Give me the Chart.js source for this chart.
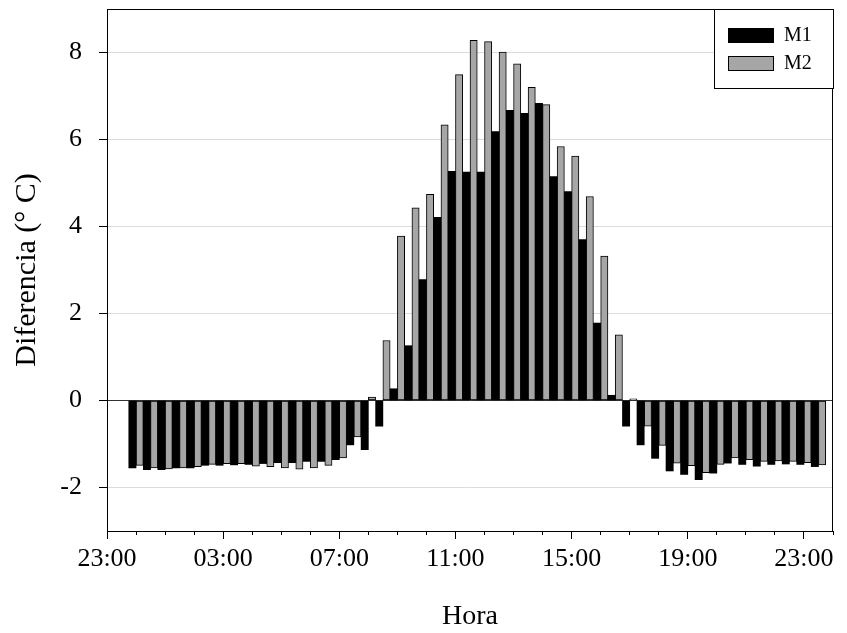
<!DOCTYPE html>
<html>
<head>
<meta charset="utf-8">
<script src="https://cdn.jsdelivr.net/npm/chart.js@4.4.0/dist/chart.umd.min.js"></script>
<style>
  html, body { margin: 0; padding: 0; background: #fff; }
  #wrap { width: 847px; height: 633px; }
</style>
</head>
<body>
<div id="wrap"><canvas id="difChart"></canvas></div>
<script>
// Half-hour slots, as hours after midnight
const hours = [
  0, 0.5, 1, 1.5, 2, 2.5, 3, 3.5, 4, 4.5, 5, 5.5,
  6, 6.5, 7, 7.5, 8, 8.5, 9, 9.5, 10, 10.5, 11, 11.5,
  12, 12.5, 13, 13.5, 14, 14.5, 15, 15.5, 16, 16.5, 17, 17.5,
  18, 18.5, 19, 19.5, 20, 20.5, 21, 21.5, 22, 22.5, 23, 23.5
];

// Temperature difference (°C)
const m1 = [
  -1.55, -1.59, -1.59, -1.55, -1.55, -1.49, -1.49, -1.48, -1.47, -1.45, -1.43, -1.43,
  -1.40, -1.40, -1.36, -1.02, -1.13, -0.59, 0.27, 1.26, 2.78, 4.21, 5.27, 5.25,
  5.25, 6.18, 6.67, 6.60, 6.83, 5.15, 4.80, 3.70, 1.78, 0.12, -0.59, -1.02,
  -1.33, -1.62, -1.70, -1.82, -1.67, -1.44, -1.47, -1.51, -1.47, -1.46, -1.47, -1.52
];
const m2 = [
  -1.49, -1.55, -1.57, -1.55, -1.52, -1.47, -1.45, -1.45, -1.51, -1.52, -1.55, -1.58,
  -1.55, -1.49, -1.32, -0.84, 0.08, 1.38, 3.78, 4.43, 4.74, 6.34, 7.49, 8.28,
  8.25, 8.01, 7.74, 7.20, 6.80, 5.84, 5.62, 4.69, 3.32, 1.51, 0.04, -0.59,
  -1.03, -1.44, -1.50, -1.66, -1.47, -1.32, -1.36, -1.40, -1.39, -1.40, -1.43, -1.48
];

// Labelled hour ticks (-1 = 23:00 of the previous day)
const xTickHours  = [-1, 3, 7, 11, 15, 19, 23];
const xTickLabels = ['23:00', '03:00', '07:00', '11:00', '15:00', '19:00', '23:00'];
const yTicks = [-2, 0, 2, 4, 6, 8];

const SERIF = '"Liberation Serif", "Times New Roman", serif';
const GRAY  = '#a6a6a6';

// closed frame round the plot + the boxed legend in its top right corner
const framePlugin = {
  id: 'frameAndLegend',
  afterDatasetsDraw(chart) {
    const { ctx, chartArea: a } = chart;
    ctx.save();
    ctx.strokeStyle = '#000';
    ctx.lineWidth = 1;
    ctx.strokeRect(a.left + 0.5, a.top + 0.5, a.right - a.left - 1, a.bottom - a.top);

    const w = 119, h = 79;
    const bx = a.right - w, by = a.top;
    ctx.fillStyle = '#fff';
    ctx.fillRect(bx, by, w, h);
    ctx.strokeRect(bx + 0.5, by + 0.5, w, h);

    chart.data.datasets.forEach((ds, i) => {
      const sy = by + 19 + i * 28;
      ctx.fillStyle = ds.backgroundColor;
      ctx.fillRect(bx + 14, sy, 46, 15);
      ctx.strokeStyle = '#000';
      ctx.strokeRect(bx + 14.5, sy + 0.5, 45, 14);
      ctx.fillStyle = '#000';
      ctx.font = '20px ' + SERIF;
      ctx.textBaseline = 'middle';
      ctx.textAlign = 'left';
      ctx.fillText(ds.label, bx + 70, sy + 8);
    });
    ctx.restore();
  }
};

new Chart(document.getElementById('difChart'), {
  type: 'bar',
  data: {
    datasets: [
      {
        label: 'M1',
        data: hours.map((h, i) => ({ x: h, y: m1[i] })),
        backgroundColor: '#000',
        borderColor: '#000',
        borderWidth: 0,
      },
      {
        label: 'M2',
        data: hours.map((h, i) => ({ x: h, y: m2[i] })),
        backgroundColor: GRAY,
        borderColor: '#000',
        borderWidth: 1,
        borderSkipped: false,
      },
    ],
  },
  options: {
    responsive: true,
    maintainAspectRatio: false,
    animation: false,
    barPercentage: 1,
    categoryPercentage: 1,
    layout: { padding: { top: 9, right: 14, left: 0, bottom: 0 } },
    plugins: {
      legend: { display: false },
      tooltip: { enabled: false },
    },
    scales: {
      // hourly minor ticks, no labels
      x: {
        type: 'linear',
        position: 'bottom',
        weight: 0,
        min: -1,
        max: 24,
        offset: false,
        ticks: { stepSize: 1, display: false },
        grid: { drawOnChartArea: false, offset: false, tickLength: 4, color: '#000', tickWidth: 1 },
        border: { display: true, color: '#000', width: 1 },
        afterFit: s => { s.height = 0; },
      },
      // labelled 4-hour ticks
      xMajor: {
        type: 'linear',
        position: 'bottom',
        weight: 1,
        min: -1,
        max: 24,
        offset: false,
        afterBuildTicks: s => { s.ticks = xTickHours.map(v => ({ value: v })); },
        ticks: {
          color: '#000',
          font: { family: SERIF, size: 26 },
          padding: 5,
          maxRotation: 0,
          autoSkip: false,
          callback: v => xTickLabels[xTickHours.indexOf(v)],
        },
        grid: { drawOnChartArea: false, offset: false, tickLength: 8, color: '#000' },
        border: { display: false },
        title: {
          display: true,
          text: 'Hora',
          color: '#000',
          font: { family: SERIF, size: 28 },
          padding: { top: 0, bottom: 0 },
        },
        afterFit: s => { s.height = 102; },
      },
      y: {
        min: -3,
        max: 9,
        afterBuildTicks: s => { s.ticks = yTicks.map(v => ({ value: v })); },
        ticks: {
          color: '#000',
          font: { family: SERIF, size: 26 },
          padding: 17,
        },
        grid: {
          color: c => (c.tick && c.tick.value === 0 ? '#333' : '#dcdcdc'),
          tickColor: '#000',
          tickLength: 8,
        },
        border: { display: true, color: '#000', width: 1 },
        title: {
          display: true,
          text: 'Diferencia (° C)',
          color: '#000',
          font: { family: SERIF, size: 30 },
          padding: { top: 9, bottom: 0 },
        },
        afterFit: s => {
          s.width = 107;
          s.paddingTop = 0;
          s.paddingBottom = 0;
        },
      },
    },
  },
  plugins: [framePlugin],
});
</script>
</body>
</html>
